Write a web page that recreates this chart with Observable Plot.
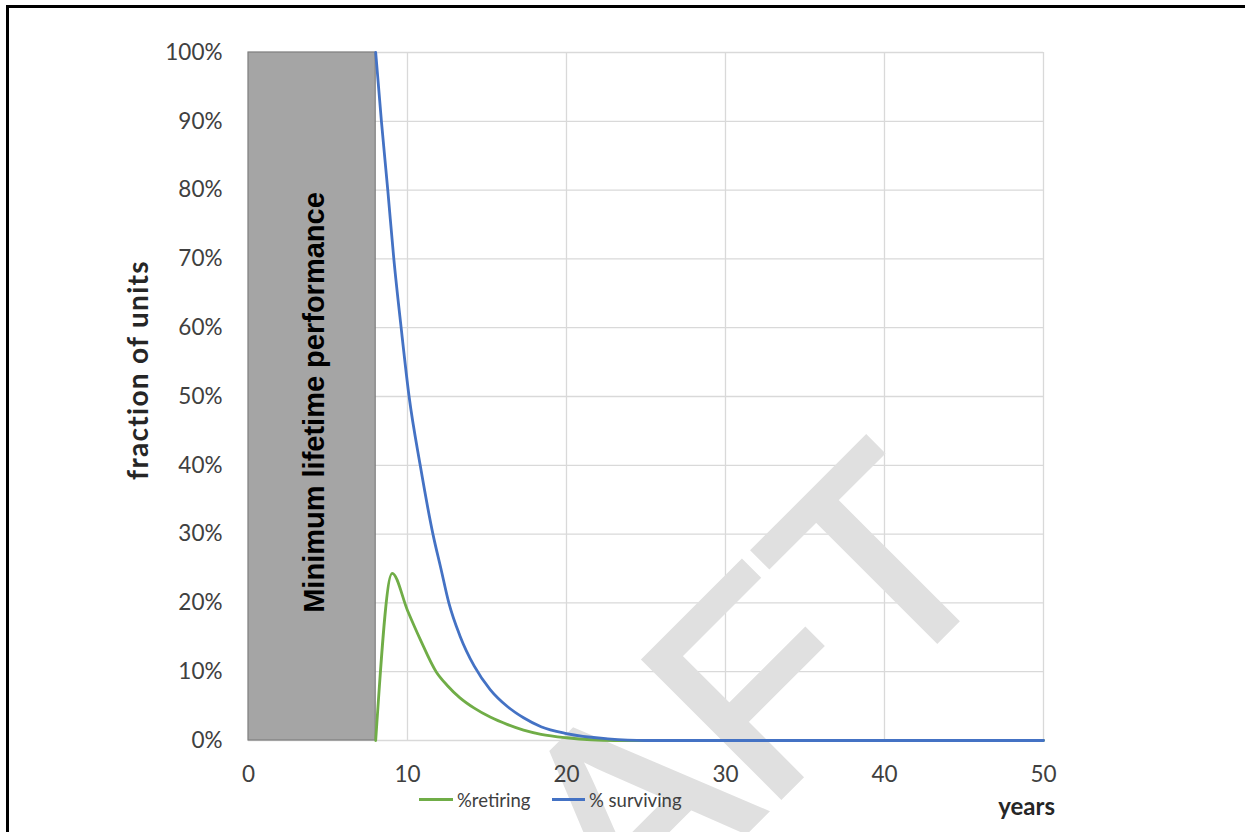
<!DOCTYPE html>
<html><head><meta charset="utf-8">
<script src="https://cdn.jsdelivr.net/npm/d3@7"></script>
<script src="https://cdn.jsdelivr.net/npm/@observablehq/plot@0.6"></script>
<style>
body{margin:0;background:#fff;}
#wrap{position:relative;width:1245px;height:832px;overflow:hidden;background:#fff;font-family:Lato,"Open Sans",sans-serif;}
#chart{position:absolute;left:0;top:0;}
#frame{position:absolute;left:6px;top:5px;width:1400px;height:1000px;border-left:3px solid #000;border-top:3px solid #000;pointer-events:none;}
#ytitle{position:absolute;left:137px;top:370px;transform:translate(-50%,-50%) rotate(-90deg);white-space:nowrap;font-weight:bold;font-size:28px;letter-spacing:1.3px;color:#262626;}
#xtitle{position:absolute;right:190px;top:791px;font-weight:bold;font-size:24px;color:#262626;}
.leg{position:absolute;top:789px;font-size:18.5px;color:#404040;white-space:nowrap;}
.sw{position:absolute;height:3px;top:798px;}
</style></head><body>
<div id="wrap">
<div id="chart"></div>
<div id="frame"></div>
<div id="ytitle">fraction of units</div>
<div class="sw" style="left:419px;width:34px;background:#70ad47"></div>
<div class="leg" style="left:457px">%retiring</div>
<div class="sw" style="left:552px;width:33px;background:#4472c4"></div>
<div class="leg" style="left:589px">% surviving</div>
<div id="xtitle">years</div>
</div>
<script>
// tick values
const xTicks = [0, 10, 20, 30, 40, 50];
const yTicks = [0, 10, 20, 30, 40, 50, 60, 70, 80, 90, 100];

// minimum lifetime block (years, share)
const blockYears = [0, 8];
const blockShare = [0, 100];
const blockLabel = "Minimum lifetime performance";

// % surviving
const survYears  = [8, 8.36, 8.76, 9.14, 9.6, 10.1, 10.8, 11.6, 12.1, 12.6, 13.3, 14.2, 15.2, 16.3, 17.3, 18.4, 20, 22.6, 25, 30, 40, 50];
const survValues = [100, 90, 80, 70, 60, 50, 40, 30, 25, 20, 15.2, 10.8, 7.4, 4.9, 3.3, 2.0, 1.0, 0.25, 0, 0, 0, 0];

// %retiring
const retYears  = [8, 9.04, 10, 10.8, 11.8, 12.5, 13.3, 14.2, 15.2, 16.3, 17.3, 18.4, 20, 23, 30, 40, 50];
const retValues = [0, 24.3, 18.9, 14.7, 10, 8.0, 6.2, 4.7, 3.4, 2.3, 1.5, 0.9, 0.4, 0, 0, 0, 0];

const surviving = survYears.map((x, i) => ({year: x, value: survValues[i]}));
const retiring = retYears.map((x, i) => ({year: x, value: retValues[i]}));
const block = [{x1: blockYears[0], x2: blockYears[1], y1: blockShare[0], y2: blockShare[1], label: blockLabel}];

const plot = Plot.plot({
  width: 1245, height: 832,
  marginLeft: 248, marginRight: 202, marginTop: 52, marginBottom: 92,
  style: {background: "transparent", fontFamily: "Lato, 'Open Sans', sans-serif", fontSize: "22.5px", color: "#404040", overflow: "visible"},
  x: {domain: [0, 50]},
  y: {domain: [0, 100]},
  marks: [
    Plot.gridX(xTicks, {stroke: "#d9d9d9", strokeOpacity: 1, strokeWidth: 1.3}),
    Plot.gridY(yTicks, {stroke: "#d9d9d9", strokeOpacity: 1, strokeWidth: 1.3}),
    Plot.rect(block, {x1: "x1", x2: "x2", y1: "y1", y2: "y2", fill: "#a5a5a5", stroke: "#7f7f7f", strokeWidth: 1.2}),
    Plot.text(block, {x: d => (d.x1 + d.x2) / 2, y: d => (d.y1 + d.y2) / 2, text: "label", rotate: -90, dx: 3, dy: 6, fontWeight: "bold", fontSize: 29, fill: "#000", fontFamily: "'Liberation Sans', Arial, sans-serif"}),
    Plot.line(retiring, {x: "year", y: "value", stroke: "#70ad47", strokeWidth: 2.8, curve: "monotone-x"}),
    Plot.line(surviving, {x: "year", y: "value", stroke: "#4472c4", strokeWidth: 2.8, curve: "monotone-x"}),
    Plot.axisX(xTicks, {tickSize: 0, tickPadding: 26, label: null, fill: "#404040"}),
    Plot.axisY(yTicks, {tickSize: 0, tickPadding: 26, tickFormat: d => d + "%", label: null, fill: "#404040"})
  ]
});
document.getElementById("chart").appendChild(plot);

// DRAFT watermark, placed below the data lines
const ns = "http://www.w3.org/2000/svg";
const wm = document.createElementNS(ns, "text");
wm.textContent = "DRAFT";
wm.setAttribute("transform", "translate(1007,570) rotate(-45)");
wm.setAttribute("text-anchor", "end");
wm.setAttribute("font-size", "280");
wm.setAttribute("font-family", "'Liberation Sans', Arial, sans-serif");
wm.setAttribute("fill", "#e0e0e0");
wm.setAttribute("stroke", "#e0e0e0");
wm.setAttribute("stroke-width", "6");
wm.setAttribute("stroke-linejoin", "miter");
const firstLine = plot.querySelector('g[aria-label="line"]');
firstLine.parentNode.insertBefore(wm, firstLine);
</script>
</body></html>
